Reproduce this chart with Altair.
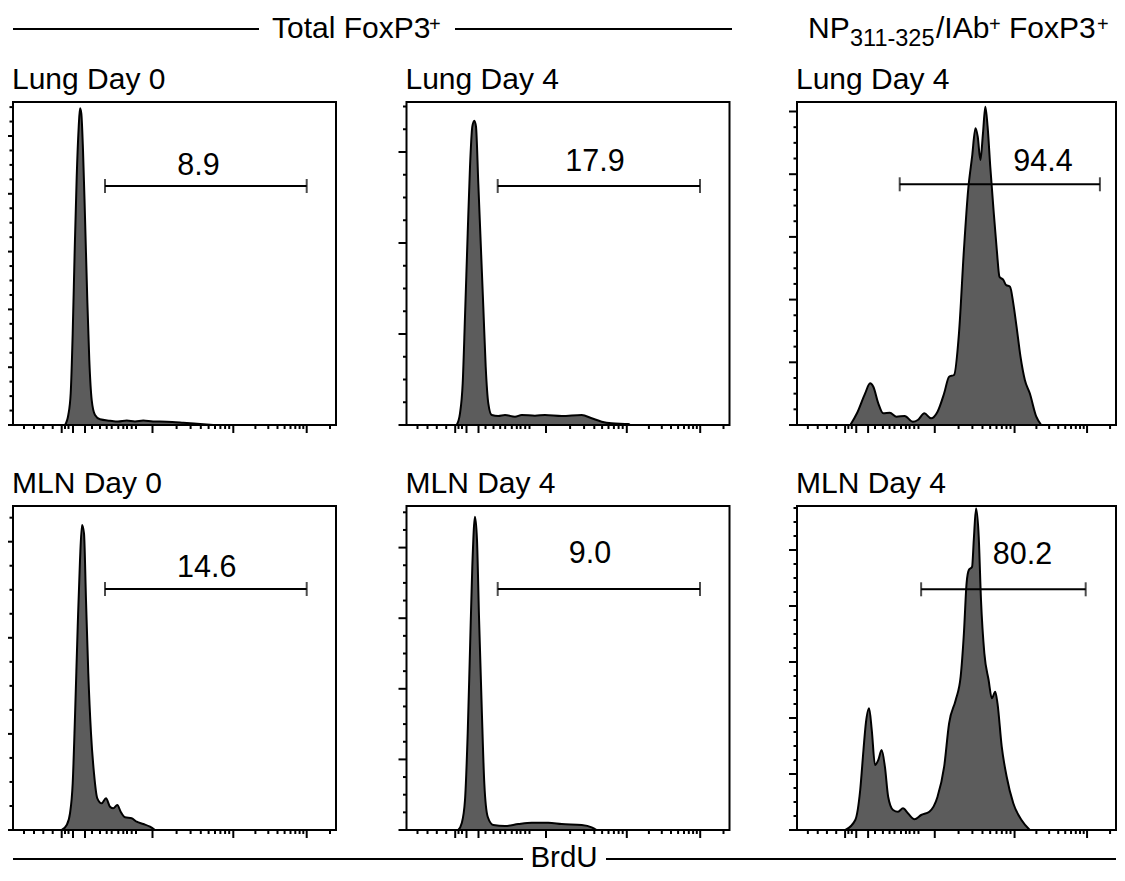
import altair as alt
import pandas as pd

FONT = "Liberation Sans, Arial, Helvetica, sans-serif"
FILL = "#5c5c5c"
OX, OY = 8, 8  # page margin

# ---------------- panel geometry (picture px) ----------------
PANEL_LEFT = [13, 406.5, 797]
PANEL_WIDTH = [323, 323, 319]
PANEL_TOP = [102, 506]
PANEL_BOTTOM = [425, 830]
AXIS_MAX = 323  # BrdU display-axis extent

titles = ["Lung Day 0", "Lung Day 4", "Lung Day 4", "MLN Day 0", "MLN Day 4", "MLN Day 4"]

# ---------------- histogram curves (BrdU display units, count units) ----------------
p1_x = [52, 55.3, 57.7, 59.7, 61.7, 63.7, 65.7, 67, 68.3, 70, 72, 74.3, 76.3, 78.7, 82, 87, 97,
        105, 113.7, 122, 130.3, 140, 153.7, 170.3, 187, 200.3]
p1_y = [0, 10, 31.7, 91.7, 175, 248, 298, 316.7, 311.7, 275, 208, 125, 65, 25, 10, 5.7, 4.3,
        3.5, 4.5, 3.6, 4.5, 3.5, 3.3, 2.3, 1, 0]

p2_x = [50.2, 53.5, 56.2, 58.5, 61.2, 63.5, 65.8, 67.8, 69.5, 71.8, 74.5, 76.8, 79.2, 81.8, 85.2,
        91.8, 98.5, 108.5, 115.2, 128.5, 138.5, 155.2, 175.2, 185.2, 195.2, 205.2, 221.8, 223.5]
p2_y = [0, 11.7, 41.7, 108.3, 191.7, 258.3, 298.3, 304.3, 298.3, 241.7, 175, 118.3, 58.3, 21.7, 10,
        9, 10, 8.3, 10, 9.3, 10, 9, 10, 6.7, 3.3, 1.7, 1, 0]

p3_x = [54, 60.7, 69, 74, 77.3, 82.3, 87.3, 94, 100.7, 109, 117.3, 122.3, 129, 135.7, 142.3, 149,
        154, 159, 164, 169, 173.3, 177.3, 180.7, 183, 185.7, 188.3, 190.7, 193, 195.7, 199, 202.3,
        205, 209, 211.7, 215.7, 219, 222.3, 226.3, 230.7, 235.7, 242.3, 247.3]
p3_y = [0, 11.7, 31.7, 41.7, 38.3, 21.7, 11.7, 12.3, 8.3, 9, 3.3, 5, 11.7, 6.7, 13.3, 31.7,
        48.3, 50, 91.7, 175, 235, 268.3, 296.7, 288.3, 265, 291.7, 318.3, 298.3, 258.3, 215, 175,
        148.3, 145, 140, 138.3, 121.7, 98.3, 68.3, 45, 31.7, 8.3, 0]

p4_x = [48.7, 53.7, 57, 59.7, 62, 64.7, 67, 69, 71, 73, 75.3, 78, 81, 84.3, 88.7, 93, 97, 100.3,
        104.3, 107.7, 112, 118.7, 123.7, 130.3, 137, 142]
p4_y = [0, 5, 16.7, 46.7, 113.3, 203.3, 270, 305, 296.7, 230, 156.7, 96.7, 56.7, 31.7, 26.7, 31.7,
        23.3, 21.7, 25, 18.3, 12.7, 11.7, 8.3, 6, 3.3, 0]

p5_x = [51.8, 55.2, 58.5, 61.2, 63.5, 65.8, 68.5, 70.5, 72.5, 75.2, 77.8, 81.2, 86.8, 98.5, 111.8,
        125.2, 141.8, 155.2, 175.2, 185.2, 190.2]
p5_y = [0, 6.7, 30, 96.7, 180, 263.3, 313.3, 290, 213.3, 123.3, 46.7, 13.3, 5, 4, 6,
        7.3, 7.3, 6, 5, 2.7, 0]

p6_x = [49, 59, 64, 67.3, 69.7, 73, 75.7, 79, 82.3, 85.7, 89, 92.3, 97.3, 102.3, 107.3, 112.3, 119,
        125.7, 134, 142.3, 149, 154, 160.7, 165.7, 169, 171.7, 174, 177.3, 179, 181.3, 184, 186.3,
        189.7, 194, 197.3, 200.7, 203, 207.3, 212.3, 219, 227.3, 235.7]
p6_y = [0, 10, 40, 80, 106.7, 121.7, 100, 65, 70, 80, 63.3, 33.3, 20, 18.3, 21.7, 16.7, 10.7,
        15, 18.3, 33.3, 63.3, 106.7, 130, 153.3, 196.7, 246.7, 260, 263.3, 290, 321.7, 293.3, 230,
        176.7, 150, 131.7, 138.3, 126.7, 83.3, 53.3, 26.7, 10, 0]

curves_x = [p1_x, p2_x, p3_x, p4_x, p5_x, p6_x]
curves_y = [p1_y, p2_y, p3_y, p4_y, p5_y, p6_y]

# ---------------- gates ----------------
gate_x1 = [92, 91.2, 104, 92, 91.2, 125.7]
gate_x2 = [293.7, 293.5, 306.7, 293.7, 293.5, 292.3]
gate_y = [239, 239, 240.7, 241, 241, 240.7]
gate_labels = ["8.9", "17.9", "94.4", "14.6", "9.0", "80.2"]
label_x = [185.5, 188.5, 249, 193.7, 183.5, 228.3]
label_y = [250, 254, 254, 253.3, 266.7, 266]

# ---------------- axis ticks ----------------
x_major = [48.7, 60, 72, 139.5, 220.3, 293.7]
x_minor = [11, 21, 30.3, 39.7, 52, 55.5, 79, 87, 93.7, 98.7, 105.3, 110.3, 114, 118.7, 123,
           163.6, 177.6, 187.8, 195.6, 202, 207.4, 212.1, 216.2,
           242.4, 255.3, 264.5, 271.6, 277.5, 282.3, 286.6, 290.3, 317]
y_step = [57.8, 91.0, 62.7, 96.1, 70.6, 56.0]


def panel_layers(i):
    r, c = divmod(i, 3)
    left = PANEL_LEFT[c] - OX
    pw = PANEL_WIDTH[c]
    top = PANEL_TOP[r] - OY
    bottom = PANEL_BOTTOM[r] - OY
    H = PANEL_BOTTOM[r] - PANEL_TOP[r]
    xs = alt.Scale(domain=[0, AXIS_MAX], range=[left, left + pw], nice=False, zero=False)
    ys = alt.Scale(domain=[0, H], range=[bottom, top], nice=False, zero=False)
    X = lambda f: alt.X(f, type="quantitative", scale=xs, axis=None)
    Y = lambda f: alt.Y(f, type="quantitative", scale=ys, axis=None)
    X2 = lambda f: alt.X2(f)
    Y2 = lambda f: alt.Y2(f)

    layers = []
    curve = pd.DataFrame({"x": curves_x[i], "y": curves_y[i]})
    layers.append(alt.Chart(curve).mark_area(
        fill=FILL, stroke="black", strokeWidth=2, interpolate="monotone", strokeJoin="round"
    ).encode(x=X("x"), y=Y("y")))

    frame = pd.DataFrame({"x": [0], "x2": [AXIS_MAX], "y": [0], "y2": [H]})
    layers.append(alt.Chart(frame).mark_rect(
        fillOpacity=0, stroke="black", strokeWidth=2
    ).encode(x=X("x"), x2=X2("x2"), y=Y("y"), y2=Y2("y2")))

    gate = pd.DataFrame({"x": [gate_x1[i]], "x2": [gate_x2[i]], "y": [gate_y[i]],
                         "lx": [label_x[i]], "ly": [label_y[i]], "t": [gate_labels[i]]})
    layers.append(alt.Chart(gate).mark_rule(color="black", strokeWidth=2).encode(
        x=X("x"), x2=X2("x2"), y=Y("y")))
    caps = pd.DataFrame({"x": [gate_x1[i], gate_x2[i]], "y": [gate_y[i]] * 2})
    layers.append(alt.Chart(caps).mark_tick(
        orient="vertical", size=14, thickness=2, color="black"
    ).encode(x=X("x"), y=Y("y")))
    layers.append(alt.Chart(gate).mark_text(
        font=FONT, fontSize=30.5, color="black", align="center", baseline="alphabetic"
    ).encode(x=X("lx"), y=Y("ly"), text="t:N"))

    # x ticks
    xt_major = pd.DataFrame({"x": x_major})
    xt_minor = pd.DataFrame({"x": x_minor})
    layers.append(alt.Chart(xt_major).mark_rule(color="black", strokeWidth=2).encode(
        x=X("x"), y=alt.value(bottom), y2=alt.value(bottom + 8)))
    layers.append(alt.Chart(xt_minor).mark_rule(color="black", strokeWidth=2).encode(
        x=X("x"), y=alt.value(bottom), y2=alt.value(bottom + 4)))

    # y ticks
    step = y_step[i]
    n_major = int(H // step) + 1
    maj = [round(k * step, 2) for k in range(n_major)]
    mnr = [round(k * step / 4, 2) for k in range(int(H // (step / 4)) + 1) if k % 4 != 0]
    layers.append(alt.Chart(pd.DataFrame({"y": maj})).mark_rule(color="black", strokeWidth=2).encode(
        y=Y("y"), x=alt.value(left - 8), x2=alt.value(left)))
    layers.append(alt.Chart(pd.DataFrame({"y": mnr})).mark_rule(color="black", strokeWidth=2).encode(
        y=Y("y"), x=alt.value(left - 3.5), x2=alt.value(left)))

    # panel title
    layers.append(alt.Chart(pd.DataFrame({"t": [titles[i]]})).mark_text(
        font=FONT, fontSize=30, align="left", baseline="alphabetic", color="black"
    ).encode(x=alt.value(left - 1), y=alt.value(top - 13), text="t:N"))
    return layers


one = pd.DataFrame({"a": [0]})


def hline(x1, x2, y):
    return alt.Chart(one).mark_rule(color="black", strokeWidth=2).encode(
        x=alt.value(x1 - OX), x2=alt.value(x2 - OX), y=alt.value(y - OY))


def label(text, x, y, size=30, align="left"):
    return alt.Chart(pd.DataFrame({"t": [text]})).mark_text(
        font=FONT, fontSize=size, align=align, baseline="alphabetic", color="black"
    ).encode(x=alt.value(x - OX), y=alt.value(y - OY), text="t:N")


annotations = [
    hline(13, 259, 29), hline(455, 732, 29),
    label("Total FoxP3", 272, 38),
    label("+", 429, 31, size=20),
    label("NP", 808, 38),
    label("311-325", 850, 46, size=23.5),
    label("/IAb", 936, 38),
    label("+", 989, 31, size=20),
    label("FoxP3", 1009, 38),
    label("+", 1097, 31, size=20),
    hline(13, 523, 859), hline(606, 1116, 859),
    label("BrdU", 564, 867, size=29.5, align="center"),
]

layers = []
for i in range(6):
    layers.extend(panel_layers(i))
layers.extend(annotations)

chart = alt.layer(*layers).resolve_scale(x="independent", y="independent").properties(
    width=1109, height=865, autosize="none", padding=0
).configure_view(stroke=None)

chart.save("out.html", embed_options={"renderer": "svg", "actions": False})
